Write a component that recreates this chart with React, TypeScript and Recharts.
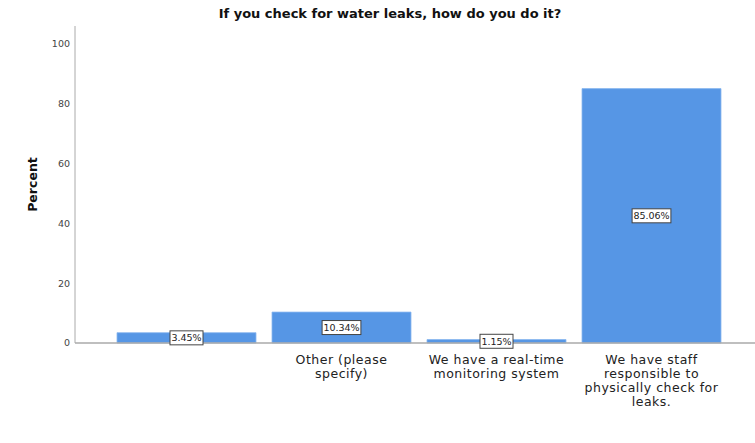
import { BarChart, Bar, XAxis, YAxis, LabelList } from 'recharts';

// Percent of respondents by leak-check method (one category left blank)
const categories = [
  '',
  'Other (please\nspecify)',
  'We have a real-time\nmonitoring system',
  'We have staff\nresponsible to\nphysically check for\nleaks.',
];
const percents = [3.45, 10.34, 1.15, 85.06];
const yTicks = [0, 20, 40, 60, 80, 100];

const BLUE = '#5696e5';
const FONT = '"DejaVu Sans", sans-serif';

const data = categories.map((name, i) => ({ name, value: percents[i] }));

function CategoryTick({ x, y, payload }: { x?: number; y?: number; payload?: { value: string } }) {
  const lines = String(payload?.value ?? '').split('\n');
  return (
    <text x={x} y={(y ?? 0) + 13} textAnchor="middle" fill="#222" fontSize={12.5} letterSpacing={0.5} fontFamily={FONT}>
      {lines.map((l, i) => (
        <tspan key={i} x={x} dy={i === 0 ? 0 : 14}>{l}</tspan>
      ))}
    </text>
  );
}

// Boxed value label in the middle of each bar
function BoxLabel(props: any) {
  const { x, y, width, height, value } = props;
  const cx = Number(x) + Number(width) / 2;
  const cy = Number(y) + Number(height) / 2;
  const txt = `${Number(value).toFixed(2)}%`;
  const w = txt.length * 5.8 + 4;
  return (
    <g>
      <rect x={cx - w / 2} y={cy - 7} width={w} height={14} fill="#fff" stroke="#444" strokeWidth={1} />
      <text x={cx} y={cy + 3.5} textAnchor="middle" fontSize={9.5} fill="#222" fontFamily={FONT}>{txt}</text>
    </g>
  );
}

export default function App() {
  return (
    <div style={{ position: 'absolute', left: 0, top: 0, width: 755, height: 443, background: '#fff', fontFamily: FONT }}>
      <div style={{
        position: 'absolute', left: 0, width: 780, top: 6, textAlign: 'center',
        fontWeight: 700, fontSize: 13, color: '#111',
      }}>
        If you check for water leaks, how do you do it?
      </div>
      <BarChart width={755} height={443} data={data} margin={{ top: 26, right: 0, bottom: 0, left: 20 }}>
        <XAxis
          dataKey="name" height={100} interval={0}
          padding={{ left: 34, right: 26 }}
          tickLine={false} axisLine={{ stroke: '#aaa', strokeWidth: 1.5 }}
          tick={<CategoryTick />}
        />
        <YAxis
          width={55} domain={[0, 106]} ticks={yTicks} interval={0}
          tickLine={false} tickSize={3} tickMargin={2}
          axisLine={{ stroke: '#aaa' }}
          tick={{ fill: '#444', fontSize: 9.5, fontFamily: FONT }}
          label={{
            value: 'Percent', angle: -90, position: 'insideLeft', offset: 13,
            style: { fontWeight: 700, fontSize: 12.5, fill: '#111', fontFamily: FONT, textAnchor: 'middle' },
          }}
        />
        <Bar dataKey="value" fill={BLUE} stroke="#8ab8ef" strokeWidth={0.8} barSize={139} isAnimationActive={false}>
          <LabelList dataKey="value" content={BoxLabel} />
        </Bar>
      </BarChart>
    </div>
  );
}
